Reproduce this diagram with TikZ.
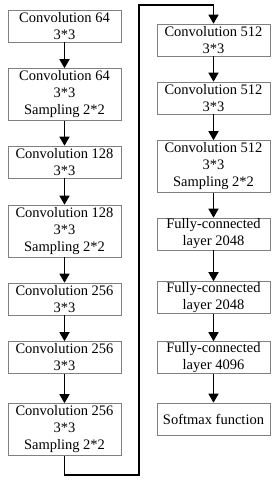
\documentclass[tikz,border=0pt]{standalone}
\usepackage{fontspec}
\setmainfont{Liberation Serif}
\usetikzlibrary{arrows.meta}
\tikzset{
  layerbox/.style={draw=gray, line width=0.6pt, minimum width=113pt,
    inner sep=0pt, align=center, font=\fontsize{14.5}{17}\selectfont},
  twoline/.style={layerbox, minimum height=32pt},
  threeline/.style={layerbox, minimum height=52pt},
  flow/.style={line width=1.5pt, -{Triangle[length=9pt,width=10pt]}}
}
\begin{document}
\begin{tikzpicture}[x=1pt,y=-1pt]
  \useasboundingbox (0,0) rectangle (274,480);

  % Left column
  \node[twoline]   (conva) at (64.5,26)    {Convolution 64\\3*3};
  \node[threeline] (convb) at (64.5,94.5)  {Convolution 64\\3*3\\Sampling 2*2};
  \node[twoline]   (convc) at (64.5,162)   {Convolution 128\\3*3};
  \node[threeline] (convd) at (64.5,231)   {Convolution 128\\3*3\\Sampling 2*2};
  \node[twoline]   (conve) at (64.5,299)   {Convolution 256\\3*3};
  \node[twoline]   (convf) at (64.5,357.5) {Convolution 256\\3*3};
  \node[threeline] (convg) at (64.5,429.5) {Convolution 256\\3*3\\Sampling 2*2};

  % Right column
  \node[twoline]   (convh) at (213.5,40)    {Convolution 512\\3*3};
  \node[twoline]   (convi) at (213.5,98)    {Convolution 512\\3*3};
  \node[threeline] (convj) at (213.5,166.5) {Convolution 512\\3*3\\Sampling 2*2};
  \node[twoline]   (fca)   at (213.5,234)   {Fully-connected\\layer 2048};
  \node[twoline]   (fcb)   at (213.5,297.5) {Fully-connected\\layer 2048};
  \node[twoline]   (fcc)   at (213.5,357.5) {Fully-connected\\layer 4096};
  \node[twoline]   (soft)  at (213.5,419)   {Softmax function};

  % Arrows down the columns
  \foreach \a/\b in {conva/convb,convb/convc,convc/convd,convd/conve,conve/convf,
      convf/convg,convh/convi,convi/convj,convj/fca,fca/fcb,fcb/fcc,fcc/soft}
    \draw[flow] (\a) -- (\b);

  % Link from the bottom of the left column to the top of the right one
  \coordinate (turnbot) at (139,475);
  \coordinate (turntop) at (139,5);
  \draw[flow] (convg.south) |- (turnbot) -- (turntop) -| (convh.north);
\end{tikzpicture}
\end{document}
